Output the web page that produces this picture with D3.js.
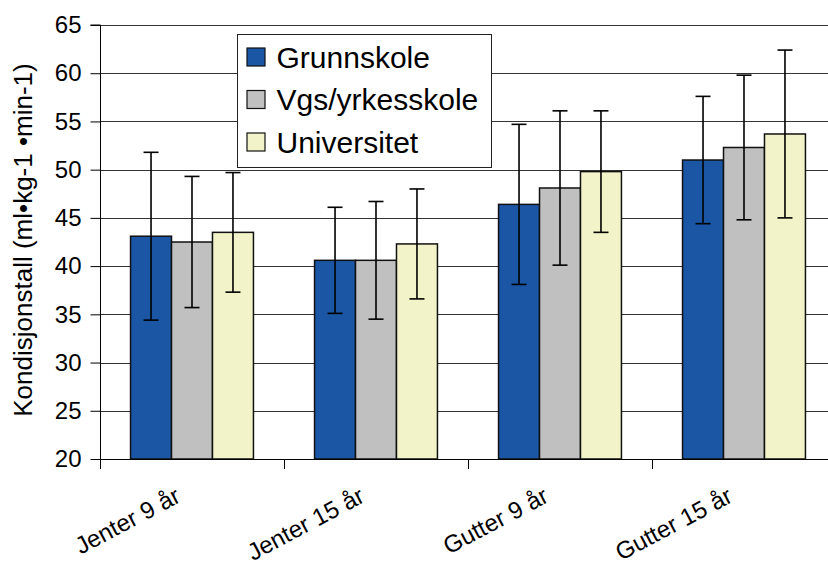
<!DOCTYPE html>
<html>
<head>
<meta charset="utf-8">
<script src="https://cdn.jsdelivr.net/npm/d3@7"></script>
<style>
  html, body { margin: 0; padding: 0; background: #fff; }
  svg { display: block; font-family: "Liberation Sans", Arial, sans-serif; }
</style>
</head>
<body>
<svg id="chart" width="828" height="568"></svg>
<script>
// ---- data ----
const categories = ["Jenter 9 år", "Jenter 15 år", "Gutter 9 år", "Gutter 15 år"];
const seriesNames = ["Grunnskole", "Vgs/yrkesskole", "Universitet"];
const grunnskole = [43.1, 40.6, 46.4, 51.0];
const vgs = [42.5, 40.6, 48.1, 52.3];
const universitet = [43.5, 42.3, 49.8, 53.7];
const grunnskoleSd = [8.7, 5.5, 8.3, 6.6];
const vgsSd = [6.8, 6.1, 8.0, 7.5];
const universitetSd = [6.2, 5.7, 6.3, 8.7];
const yTicks = [20, 25, 30, 35, 40, 45, 50, 55, 60, 65];
const yTitle = "Kondisjonstall (ml•kg-1 •min-1)";
const colors = ["#1b56a5", "#c0c0c0", "#f2f3c8"];

const values = [grunnskole, vgs, universitet];
const sds = [grunnskoleSd, vgsSd, universitetSd];

// ---- layout ----
const plot = { left: 100, right: 836, top: 25, bottom: 459 };
const svg = d3.select("#chart");

const x0 = d3.scaleBand().domain(categories).range([plot.left, plot.right]).paddingInner(0).paddingOuter(0);
const groupW = x0.bandwidth() * 0.668;
const x1 = d3.scaleBand().domain(seriesNames).range([0, groupW]).padding(0);
const y = d3.scaleLinear().domain([20, 65]).range([plot.bottom, plot.top]);

// grid
svg.append("g").selectAll("line").data(yTicks.filter(d => d !== 20)).join("line")
  .attr("x1", plot.left).attr("x2", plot.right)
  .attr("y1", d => Math.round(y(d)) + 0.5).attr("y2", d => Math.round(y(d)) + 0.5)
  .attr("stroke", "#333").attr("stroke-width", 1);

// bars
const data = [];
categories.forEach((c, ci) => {
  seriesNames.forEach((s, si) => {
    data.push({ c, s, si, v: values[si][ci], sd: sds[si][ci] });
  });
});
const offset = (x0.bandwidth() - groupW) / 2;
svg.append("g").selectAll("rect").data(data).join("rect")
  .attr("x", d => x0(d.c) + offset + x1(d.s))
  .attr("y", d => y(d.v))
  .attr("width", x1.bandwidth())
  .attr("height", d => y(20) - y(d.v))
  .attr("fill", d => colors[d.si])
  .attr("stroke", "#111").attr("stroke-width", 1.5);

// error bars
const eb = svg.append("g").attr("stroke", "#000").attr("stroke-width", 1.6);
data.forEach(d => {
  const cx = x0(d.c) + offset + x1(d.s) + x1.bandwidth() / 2;
  eb.append("line").attr("x1", cx).attr("x2", cx).attr("y1", y(d.v + d.sd)).attr("y2", y(d.v - d.sd));
  eb.append("line").attr("x1", cx - 7.5).attr("x2", cx + 7.5).attr("y1", y(d.v + d.sd)).attr("y2", y(d.v + d.sd));
  eb.append("line").attr("x1", cx - 7.5).attr("x2", cx + 7.5).attr("y1", y(d.v - d.sd)).attr("y2", y(d.v - d.sd));
});

// y axis
const yAxis = d3.axisLeft(y).tickValues(yTicks).tickSize(10).tickPadding(9).tickFormat(d3.format("d"));
const gy = svg.append("g").attr("transform", `translate(${plot.left + 0.5},0)`).call(yAxis);
gy.select(".domain").attr("stroke", "#000").attr("d", `M-10,${y(65)}H0V${y(20)}`);
gy.selectAll(".tick line").attr("stroke", "#000");
gy.selectAll(".tick text").attr("font-size", 24).attr("fill", "#000")
  .attr("font-family", "Liberation Sans, Arial, sans-serif");

// x axis
const boundaries = categories.map(c => x0(c)).concat([plot.right]);
svg.append("line").attr("x1", plot.left).attr("x2", plot.right)
  .attr("y1", plot.bottom + 0.5).attr("y2", plot.bottom + 0.5).attr("stroke", "#000");
svg.append("g").selectAll("line").data(boundaries).join("line")
  .attr("x1", d => Math.round(d) + 0.5).attr("x2", d => Math.round(d) + 0.5)
  .attr("y1", plot.bottom).attr("y2", plot.bottom + 10).attr("stroke", "#000");
svg.append("g").selectAll("text").data(categories).join("text")
  .attr("transform", d => `translate(${x0(d) + x0.bandwidth() / 2 - 10},${plot.bottom + 42}) rotate(-28)`)
  .attr("text-anchor", "end")
  .attr("font-size", 24).attr("fill", "#000")
  .text(d => d);

// y title
svg.append("text")
  .attr("transform", `translate(32,${(62 + 418) / 2}) rotate(-90)`)
  .attr("text-anchor", "middle")
  .attr("font-size", 26).attr("fill", "#000")
  .text(yTitle);

// legend
const lg = svg.append("g").attr("transform", "translate(237.5,34.5)");
lg.append("rect").attr("width", 254).attr("height", 133).attr("fill", "#fff").attr("stroke", "#222").attr("stroke-width", 1);
seriesNames.forEach((s, i) => {
  const cy = 22.5 + i * 42.5;
  lg.append("rect").attr("x", 9.5).attr("y", cy - 9).attr("width", 18).attr("height", 18)
    .attr("fill", colors[i]).attr("stroke", "#111").attr("stroke-width", 1.2);
  lg.append("text").attr("x", 39).attr("y", cy).attr("dy", "0.36em")
    .attr("font-size", 30).attr("fill", "#000").text(s);
});
</script>
</body>
</html>
